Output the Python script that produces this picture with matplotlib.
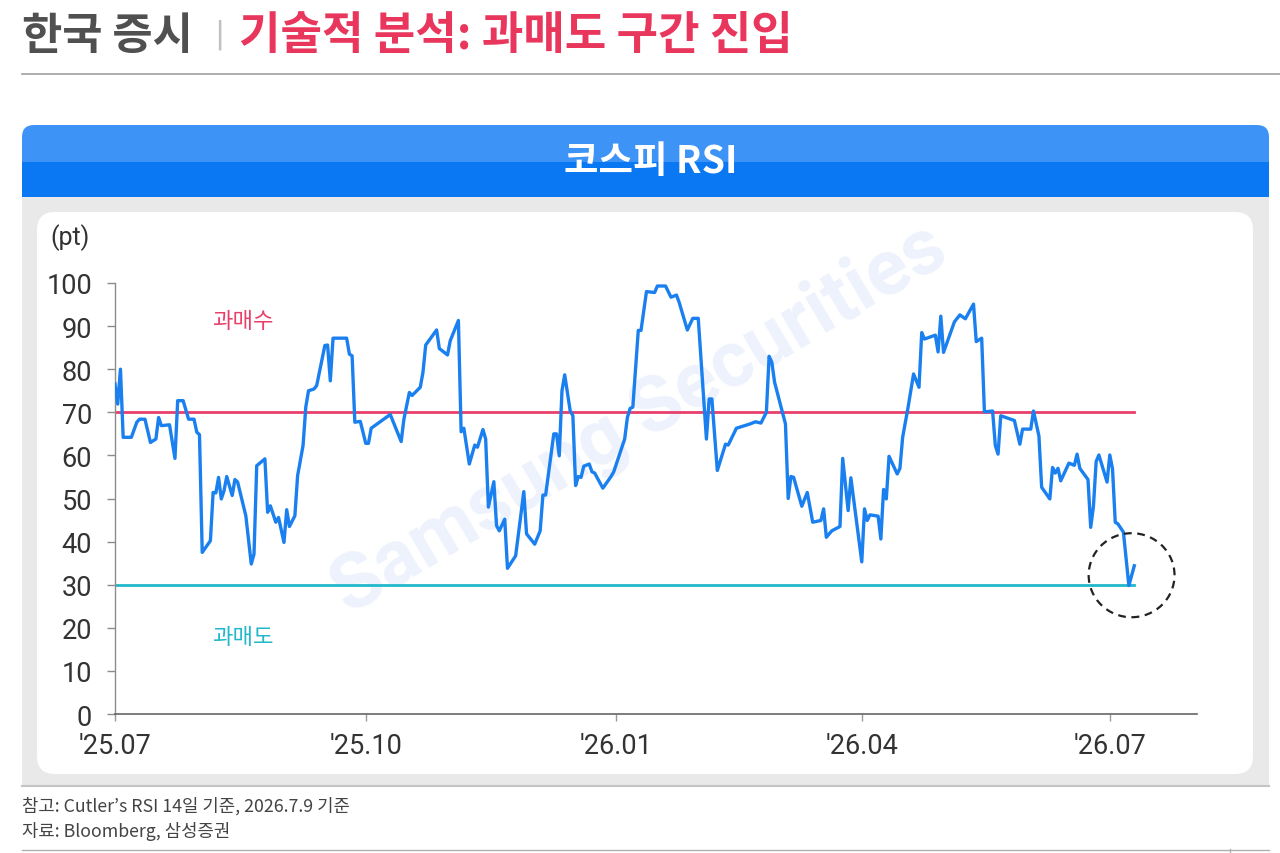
import matplotlib
matplotlib.use('Agg')
import matplotlib.pyplot as plt
import matplotlib.patches as mpatches
import matplotlib.lines as mlines
import matplotlib.transforms as mtransforms
import matplotlib.dates as mdates
import pandas as pd

plt.rcParams['font.family'] = ['Roboto', 'Noto Sans CJK KR', 'DejaVu Sans']

# KOSPI RSI (Cutler, 14d), days counted from 2025-07-01
start_date = '2025-07-01'
rsi_days = [0, 1, 2, 3, 6, 8, 9, 11, 13, 15, 16, 17, 20, 22, 23, 25, 27, 29, 30, 31,
            32, 35, 36, 37, 38, 39, 40, 41, 43, 44, 45, 48, 50, 51, 52, 55, 56, 57, 59, 60,
            62, 63, 64, 66, 67, 69, 70, 71, 73, 74, 77, 78, 79, 80, 85, 86, 87, 88, 90, 92,
            93, 94, 101, 105, 106, 108, 109, 112, 113, 114, 118, 119, 122, 123, 126, 127, 128, 130, 132, 133,
            135, 136, 137, 139, 140, 141, 143, 144, 147, 150, 151, 154, 156, 157, 158, 161, 162, 163, 164, 165,
            167, 168, 169, 170, 171, 172, 174, 175, 176, 179, 182, 183, 187, 188, 189, 190, 192, 193, 195, 198,
            199, 202, 204, 206, 207, 210, 212, 214, 217, 218, 219, 221, 224, 225, 228, 230, 233, 235, 237, 239,
            240, 241, 242, 246, 247, 248, 249, 252, 254, 256, 259, 260, 261, 263, 266, 267, 269, 270, 274, 275,
            276, 277, 280, 281, 282, 283, 284, 287, 288, 289, 291, 293, 295, 296, 297, 301, 302, 303, 304, 308,
            310, 312, 315, 316, 318, 319, 322, 323, 324, 325, 330, 332, 333, 336, 337, 339, 340, 343, 344, 345,
            346, 347, 350, 352, 353, 354, 357, 358, 359, 360, 361, 364, 365, 366, 367, 368, 370, 372, 374]
rsi_values = [76.6, 71.9, 80.0, 64.2, 64.2, 67.7, 68.4, 68.4, 63.0, 63.8, 68.8, 66.9, 67.1, 59.3, 72.7, 72.7, 68.4, 68.4, 65.4, 64.8,
              37.5, 40.2, 51.4, 51.3, 54.9, 49.9, 51.8, 55.1, 50.7, 54.4, 53.8, 46.0, 34.8, 37.1, 57.6, 59.2, 46.8, 48.3, 44.5, 45.6,
              39.8, 47.4, 43.5, 46.0, 55.3, 62.3, 71.2, 75.0, 75.4, 76.2, 85.5, 85.6, 77.3, 87.2, 87.2, 83.5, 83.1, 67.7, 67.9, 62.8,
              62.8, 66.3, 69.5, 63.2, 68.4, 74.6, 73.9, 75.8, 79.3, 85.6, 89.1, 84.8, 83.3, 86.6, 91.3, 65.5, 66.3, 58.0, 62.4, 61.9,
              66.0, 63.8, 48.0, 53.9, 43.7, 42.5, 45.2, 33.8, 36.7, 51.6, 41.8, 39.4, 42.5, 50.8, 50.8, 65.0, 65.0, 59.9, 75.0, 78.7,
              70.4, 69.2, 53.0, 55.1, 54.9, 57.5, 58.0, 56.2, 55.9, 52.4, 55.1, 56.2, 63.8, 68.8, 70.9, 71.2, 89.0, 89.0, 98.0, 97.8,
              99.3, 99.3, 96.7, 97.2, 95.5, 89.1, 91.8, 91.8, 63.8, 73.1, 73.1, 56.5, 62.6, 62.4, 66.3, 66.7, 67.3, 67.8, 67.5, 70.0,
              83.0, 81.6, 77.0, 67.3, 50.0, 55.1, 54.9, 48.2, 51.4, 44.5, 44.9, 47.6, 41.0, 42.5, 43.5, 59.3, 47.2, 54.8, 35.3, 47.6,
              44.9, 46.2, 45.9, 40.6, 52.1, 49.9, 59.8, 55.7, 57.0, 64.2, 71.2, 78.9, 75.8, 88.5, 87.0, 87.9, 84.0, 92.3, 83.9, 91.0,
              92.6, 91.7, 95.1, 86.4, 87.2, 70.1, 70.3, 62.3, 60.3, 69.2, 68.1, 62.6, 66.1, 66.1, 70.3, 64.5, 52.6, 49.9, 57.2, 55.9,
              57.0, 54.1, 58.2, 57.7, 60.3, 57.0, 54.4, 43.3, 48.2, 58.6, 60.1, 53.8, 60.1, 56.9, 44.5, 44.1, 42.2, 29.8, 34.4]

overbought = 70
oversold = 30
tick_dates = ['2025-07-01', '2025-10-01', '2026-01-01', '2026-04-01', '2026-07-01']
x_end = '2026-08-02'

rsi_dates = pd.Timestamp(start_date) + pd.to_timedelta(rsi_days, unit='D')
df = pd.DataFrame({'date': rsi_dates, 'rsi': rsi_values})

RED = '#e8406a'
TEAL = '#22b8cc'
BLUE = '#1a80ef'

W, H = 1280, 854
fig = plt.figure(figsize=(W / 100, H / 100), dpi=100)
px = mtransforms.IdentityTransform()


def panel(x0, y0, x1, y1, color, r=0):
    # box in picture pixels (top-left origin)
    style = f'round,pad=0,rounding_size={r}' if r else 'square,pad=0'
    p = mpatches.FancyBboxPatch((x0, H - y1), x1 - x0, y1 - y0, boxstyle=style,
                                fc=color, ec='none', transform=px, zorder=-10)
    fig.add_artist(p)


def hline(x0, x1, y, color, lw=1.0):
    fig.add_artist(mlines.Line2D([x0, x1], [H - y, H - y], color=color, lw=lw,
                                 transform=px, zorder=-5))


# backgrounds
panel(22, 126, 1269, 210, '#3d94f6', r=12)
panel(22, 163, 1269, 198, '#0a78f2')
panel(22, 198, 1269, 787, '#e9e9e9')
panel(37, 213, 1253, 775, 'white', r=18)
hline(22, 1280, 75, '#a0a0a0', 1.2)
hline(22, 1269, 787, '#c4c4c4', 1.5)
hline(22, 1269, 851, '#b0b0b0', 1.0)
fig.add_artist(mlines.Line2D([1230, 1230], [0, 4], color='#b0b0b0', lw=1.0, transform=px, zorder=-5))

# title
fig.text(22 / W, 1 - 36 / H, '한국 증시', fontsize=31.5, weight='bold', color='#505050',
         va='center', family=['Noto Sans CJK KR', 'DejaVu Sans'])
fig.text(219 / W, 1 - 35 / H, '|', fontsize=22, color='#c0c0c0', va='center', ha='center',
         family=['DejaVu Sans'])
fig.text(239 / W, 1 - 36 / H, '기술적 분석: 과매도 구간 진입', fontsize=32.5, weight='bold',
         color='#e8365d', va='center', family=['Noto Sans CJK KR', 'DejaVu Sans'])
fig.text(651 / W, 1 - 161 / H, '코스피 RSI', fontsize=27, weight='bold', color='white',
         ha='center', va='center', family=['Noto Sans CJK KR', 'Roboto'])

# footnotes
fig.text(22 / W, 1 - 806 / H, '참고: Cutler’s RSI 14일 기준, 2026.7.9 기준', fontsize=12.8,
         color='#444444', va='center', family=['Noto Sans CJK KR', 'DejaVu Sans'])
fig.text(22 / W, 1 - 832 / H, '자료: Bloomberg, 삼성증권', fontsize=12.8,
         color='#444444', va='center', family=['Noto Sans CJK KR', 'DejaVu Sans'])

# chart
ax = fig.add_axes([115 / W, 1 - 715 / H, (1197 - 115) / W, 431 / H])
ax.patch.set_visible(False)

ax.text(0.485, 0.685, 'Samsung Securities', transform=ax.transAxes, rotation=30.5,
        fontsize=56, weight='bold', color='#edf2fc', ha='center', va='center', zorder=0)

ax.plot([df['date'].iloc[0], df['date'].iloc[-1]], [overbought, overbought], color=RED, lw=2, zorder=2)
ax.plot([df['date'].iloc[0], df['date'].iloc[-1]], [oversold, oversold], color=TEAL, lw=2, zorder=2)
ax.plot(df['date'], df['rsi'], color=BLUE, lw=2.4, zorder=3, solid_joinstyle='round')

circle = mpatches.Ellipse((mdates.date2num(df['date'].iloc[-1]) - 1, 32.2), width=31.5, height=19.5,
                          fill=False, ec='#222222', lw=1.6, ls=(0, (3.5, 2.5)), zorder=4, clip_on=False)
ax.add_patch(circle)

ax.text(0.1185, 91.2, '과매수', transform=ax.get_yaxis_transform(), ha='center', va='center',
        color=RED, fontsize=16, family=['Noto Sans CJK KR'])
ax.text(0.1185, 17.9, '과매도', transform=ax.get_yaxis_transform(), ha='center', va='center',
        color=TEAL, fontsize=16, family=['Noto Sans CJK KR'])
ax.text(-0.042, 1.107, '(pt)', transform=ax.transAxes, ha='center', va='center',
        fontsize=18, color='#333333')

ax.set_ylim(0, 100)
ax.set_yticks(range(0, 101, 10))
ax.set_xlim(pd.Timestamp(start_date), pd.Timestamp(x_end))
ticks = pd.to_datetime(tick_dates)
ax.set_xticks(ticks)
ax.set_xticklabels([d.strftime("'%y.%m") for d in ticks])

for s in ['top', 'right']:
    ax.spines[s].set_visible(False)
ax.spines['left'].set_color('#8c8c8c')
ax.spines['left'].set_linewidth(1.0)
ax.spines['bottom'].set_color('#666666')
ax.spines['bottom'].set_linewidth(1.2)

ax.tick_params(axis='y', direction='out', length=6, width=1, color='#8c8c8c', pad=10.5,
               labelsize=19.5, labelcolor='#333333')
ax.tick_params(axis='x', direction='out', length=5, width=1, color='#999999', pad=8,
               labelsize=19.5, labelcolor='#333333')

fig.savefig('out.png', dpi=100)
